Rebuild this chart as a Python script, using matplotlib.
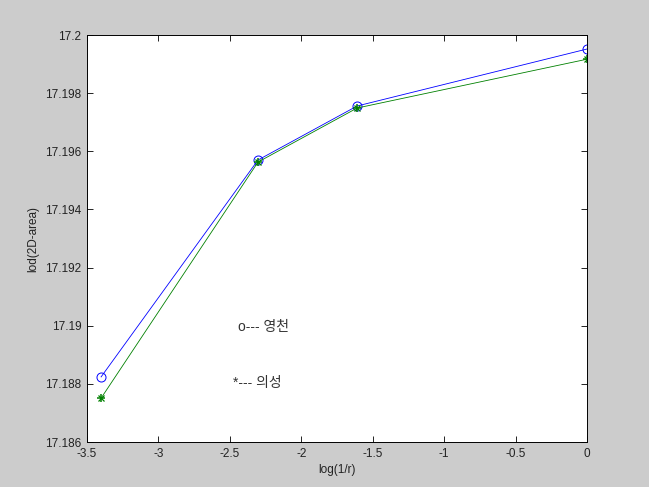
import numpy as np
import matplotlib.pyplot as plt

# data
log_inv_r = [-3.401, -2.303, -1.609, 0.0]
yeongcheon = [17.18824, 17.19570, 17.19756, 17.19952]
uiseong = [17.18751, 17.19563, 17.19749, 17.19917]

xticks = [-3.5, -3, -2.5, -2, -1.5, -1, -0.5, 0]
yticks = [17.186, 17.188, 17.19, 17.192, 17.194, 17.196, 17.198, 17.2]

plt.rcParams['font.family'] = ['Liberation Sans', 'Noto Sans CJK KR', 'DejaVu Sans']

fig = plt.figure(figsize=(6.49, 4.87), dpi=100, facecolor='#cccccc')
ax = fig.add_axes([0.134, 0.0924, 0.7705, 0.8356])
ax.set_facecolor('white')

ax.plot(log_inv_r, yeongcheon, color='#0000ff', lw=0.6, marker='o', ms=6.5,
        mfc='none', mec='#0000ff', mew=0.7)
ax.plot(log_inv_r, uiseong, color='#008000', lw=0.6, marker='+', ms=6,
        mec='#008000', mew=1.1)
ax.plot(log_inv_r, uiseong, color='#008000', lw=0, marker='x', ms=4,
        mec='#008000', mew=0.9)

ax.set_xlim(-3.5, 0)
ax.set_ylim(17.186, 17.2)
ax.set_xticks(xticks)
ax.set_xticklabels([f'{t:g}' for t in xticks])
ax.set_yticks(yticks)
ax.set_yticklabels([f'{t:g}' for t in yticks])
ax.tick_params(direction='in', top=True, right=True, labelsize=8.5, length=4,
               width=0.6, pad=4, labelcolor='#222222')
for s in ax.spines.values():
    s.set_linewidth(0.7)

ax.set_xlabel('log(1/r)', fontsize=8.5, labelpad=3, color='#222222')
ax.set_ylabel('lod(2D-area)', fontsize=8.5, labelpad=4, color='#222222')

ax.text(-2.445, 17.18996, 'o--- 영천', fontsize=10, va='center', color='#333333')
ax.text(-2.48, 17.18803, '*--- 의성', fontsize=10, va='center', color='#333333')

fig.savefig('out.png', dpi=100, facecolor=fig.get_facecolor())
